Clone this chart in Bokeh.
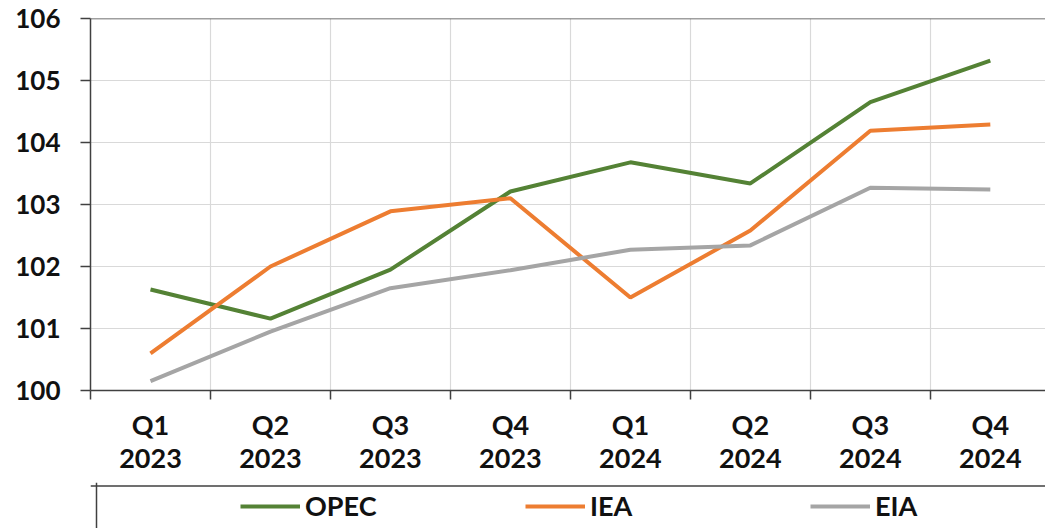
from bokeh.plotting import figure
from bokeh.layouts import column
from bokeh.models import FixedTicker, Span, Legend, LegendItem, ColumnDataSource, Range1d
from bokeh.embed import file_html
from bokeh.resources import INLINE

quarters = ["Q1\n2023", "Q2\n2023", "Q3\n2023", "Q4\n2023",
            "Q1\n2024", "Q2\n2024", "Q3\n2024", "Q4\n2024"]
opec = [101.63, 101.16, 101.95, 103.21, 103.68, 103.34, 104.65, 105.32]
iea = [100.60, 102.00, 102.89, 103.10, 101.50, 102.58, 104.19, 104.29]
eia = [100.15, 100.95, 101.65, 101.94, 102.27, 102.34, 103.27, 103.24]
series_names = ["OPEC", "IEA", "EIA"]
series_cols = ["opec", "iea", "eia"]
series_colors = ["#548235", "#ED7D31", "#A5A5A5"]

xs = list(range(1, len(quarters) + 1))
FONT = "Lato"
FSIZE = "27px"
LEFT = 90

p = figure(width=1045, height=482, output_backend="svg", toolbar_location=None,
           x_range=Range1d(0.5, 8.46), y_range=Range1d(100, 106),
           min_border_left=LEFT, min_border_top=18, min_border_right=0, min_border_bottom=92)
p.outline_line_color = None
p.background_fill_color = "white"

src = ColumnDataSource(dict(x=xs, opec=opec, iea=iea, eia=eia))
for col, c in zip(series_cols, series_colors):
    p.line("x", col, source=src, line_color=c, line_width=4)

# x axis
boundaries = [i + 0.5 for i in range(len(quarters) + 1)]
p.xaxis.ticker = FixedTicker(ticks=xs, minor_ticks=boundaries)
p.xaxis.major_label_overrides = {x: q for x, q in zip(xs, quarters)}
p.xaxis.major_tick_line_color = None
p.xaxis.major_tick_out = 0
p.xaxis.major_tick_in = 0
p.xaxis.minor_tick_out = 9
p.xaxis.minor_tick_in = 0
p.xaxis.minor_tick_line_color = "#404040"
p.xaxis.minor_tick_line_width = 1.5
p.xaxis.axis_line_color = "#404040"
p.xaxis.axis_line_width = 1.5
p.xaxis.major_label_text_font = FONT
p.xaxis.major_label_text_font_style = "bold"
p.xaxis.major_label_text_font_size = FSIZE
p.xaxis.major_label_text_color = "#111111"
p.xaxis.major_label_text_line_height = 1.0
p.xaxis.major_label_standoff = 8

# y axis
p.yaxis.ticker = FixedTicker(ticks=[100, 101, 102, 103, 104, 105, 106])
p.yaxis.major_tick_out = 10
p.yaxis.major_tick_in = 0
p.yaxis.minor_tick_line_color = None
p.yaxis.major_tick_line_color = "#404040"
p.yaxis.major_tick_line_width = 1.5
p.yaxis.axis_line_color = "#404040"
p.yaxis.axis_line_width = 1.5
p.yaxis.major_label_text_font = FONT
p.yaxis.major_label_text_font_style = "bold"
p.yaxis.major_label_text_font_size = "26px"
p.yaxis.major_label_text_color = "#111111"
p.yaxis.major_label_standoff = 20

# grids
p.xgrid.ticker = FixedTicker(ticks=boundaries)
p.xgrid.grid_line_color = "#D9D9D9"
p.xgrid.grid_line_width = 1.2
p.ygrid.grid_line_color = "#D9D9D9"
p.ygrid.grid_line_width = 1.2
p.add_layout(Span(location=106, dimension="width", line_color="#404040", line_width=1.5))

# legend panel (box shows top and left edges, the rest falls outside the view)
lg_w = 1045 - LEFT
lg = figure(width=1045, height=46, output_backend="svg", toolbar_location=None,
            x_range=Range1d(0, lg_w), y_range=Range1d(0, 1.08),
            min_border_left=LEFT, min_border_top=0, min_border_right=0, min_border_bottom=0)
lg.axis.visible = False
lg.grid.visible = False
lg.outline_line_color = None
lg.add_layout(Span(location=1.0, dimension="width", line_color="#404040", line_width=1.5))
lg.add_layout(Span(location=6, dimension="height", line_color="#404040", line_width=1.5))

items = []
for name, col, c in zip(series_names, series_cols, series_colors):
    r = lg.line("x", col, source=src, line_color=c, line_width=4)  # off-range, legend only
    items.append(LegendItem(label=name, renderers=[r]))
legend = Legend(items=items, orientation="horizontal", location=(150, 6),
                glyph_width=60, glyph_height=20, label_standoff=5, label_width=205,
                spacing=15, padding=0, margin=0,
                label_text_font=FONT, label_text_font_style="bold",
                label_text_font_size=FSIZE, label_text_color="#111111",
                border_line_color=None, background_fill_alpha=0)
lg.add_layout(legend, "center")

layout = column(p, lg, spacing=0)
open("out.html", "w").write(file_html(layout, INLINE))
